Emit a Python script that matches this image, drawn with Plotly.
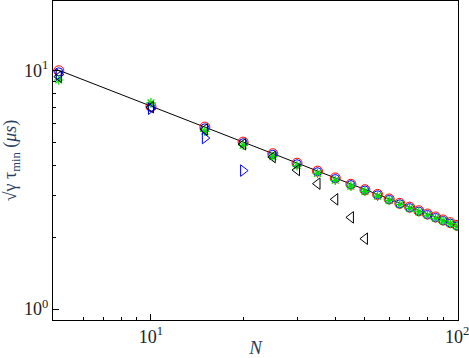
import plotly.graph_objects as go

# values
N = [5, 10, 15, 20, 25, 30, 35, 40, 45, 50, 55, 60, 65, 70, 75, 80, 85, 90, 95, 100]
red_circ = [9.95, 7.05, 5.78, 5.0, 4.47, 4.08, 3.78, 3.54, 3.33, 3.16,
            3.02, 2.89, 2.77, 2.67, 2.58, 2.50, 2.43, 2.36, 2.30, 2.24]
blue_circ = [9.85, 7.0, 5.74, 4.97, 4.45, 4.06, 3.76, 3.52, 3.32, 3.15,
             3.01, 2.88, 2.76, 2.66, 2.57, 2.49, 2.42, 2.35, 2.29, 2.23]
green_star = [9.1, 7.3, 5.55, 4.85, 4.35, 3.98, 3.70, 3.46, 3.27, 3.11,
              2.97, 2.85, 2.74, 2.64, 2.55, 2.47, 2.40, 2.34, 2.28, 2.22]

N_right = [5, 10, 15, 20]
blue_tri = [9.6, 6.9, 5.2, 3.8]

N_left = [5, 10, 15, 20, 25, 30, 35, 40, 45, 50]
black_tri = [9.4, 7.0, 5.65, 4.9, 4.33, 3.82, 3.35, 2.88, 2.42, 1.97]

line_N = [5, 100]
line_y = [10.0, 2.24]

minor_vals = [6, 7, 8, 9, 20, 30, 40, 50, 60, 70, 80, 90]
minor_y = [2, 3, 4, 5, 6, 7, 8, 9, 20]

fig = go.Figure()
fig.add_scatter(x=line_N, y=line_y, mode="lines", line=dict(color="black", width=1))
fig.add_scatter(x=N, y=red_circ, mode="markers",
                marker=dict(symbol="circle-open", size=10, color="red", line=dict(width=1)))
fig.add_scatter(x=N, y=blue_circ, mode="markers",
                marker=dict(symbol="circle-open", size=8, color="blue", line=dict(width=1)))
fig.add_scatter(x=N, y=green_star, mode="markers",
                marker=dict(symbol="asterisk-open", size=8, color="#00dd00", line=dict(width=1.2)))
fig.add_scatter(x=N_right, y=blue_tri, mode="markers",
                marker=dict(symbol="triangle-right-open", size=10, color="blue", line=dict(width=1)))
fig.add_scatter(x=N_left, y=black_tri, mode="markers",
                marker=dict(symbol="triangle-left-open", size=10, color="black", line=dict(width=1)))

serif = "Liberation Serif"
axis_common = dict(
    type="log", showgrid=False, zeroline=False, showline=True, mirror=True,
    linecolor="black", linewidth=1, ticks="inside", ticklen=6, tickcolor="black",
    tickfont=dict(family=serif, size=18, color="#222"),
    automargin=False, ticklabeloverflow="allow",
)

fig.update_xaxes(
    axis_common, range=[0.68, 2.003],
    tickmode="array", tickvals=[10, 100], ticktext=["10<sup>1</sup>", "10<sup>2</sup>"],
    minor=dict(tickmode="array", tickvals=minor_vals, ticks="inside", ticklen=3, tickcolor="black"),
    title=dict(text="<i>N</i>", font=dict(family=serif, size=19), standoff=0),
)
fig.update_yaxes(
    axis_common, range=[-0.046, 1.29],
    tickmode="array", tickvals=[1, 10], ticktext=["10<sup>0</sup>", "10<sup>1</sup>"],
    minor=dict(tickmode="array", tickvals=minor_y, ticks="inside", ticklen=3, tickcolor="black"),
    title=dict(text="\u221a\u03b3 \u03c4<sub>min</sub> (<i>\u03bcs</i>)",
               font=dict(family=serif, size=18), standoff=4),
)
fig.update_layout(
    width=469, height=358, showlegend=False,
    plot_bgcolor="white", paper_bgcolor="white",
    margin=dict(l=53, r=11, t=1, b=38),
)
fig.write_html("out.html", config={"displayModeBar": False},
               post_script="document.body.style.margin='0';document.body.style.overflow='hidden';")
